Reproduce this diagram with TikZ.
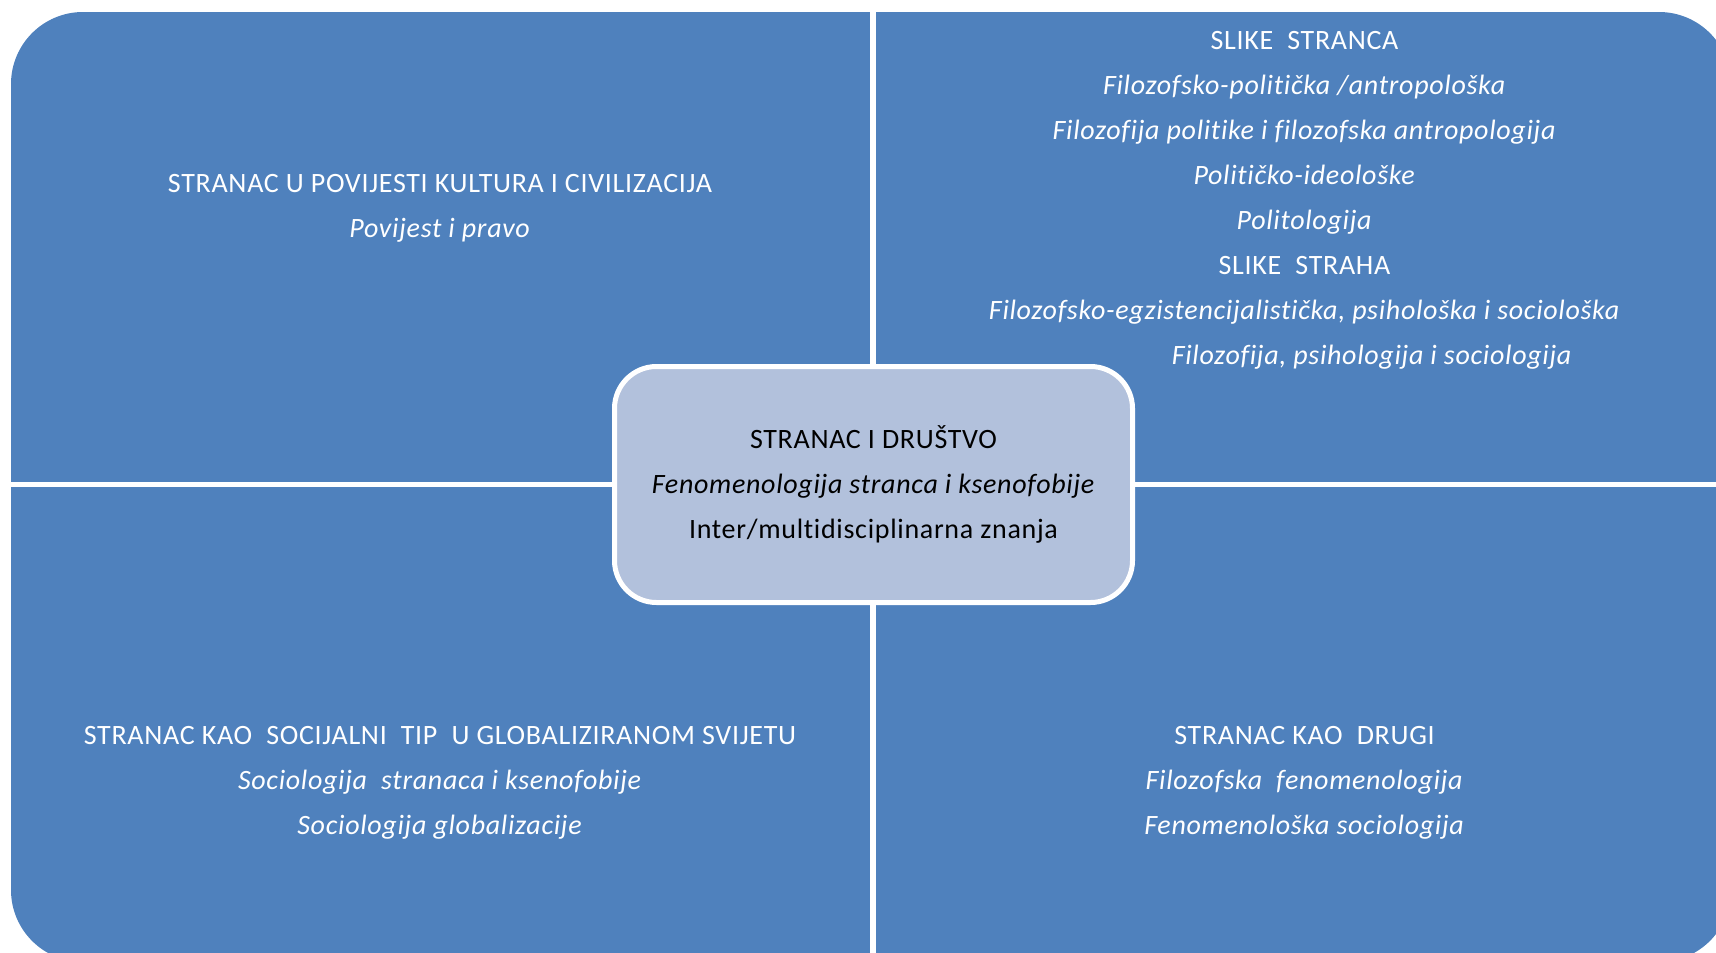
\documentclass[tikz,border=0pt]{standalone}
\usepackage{fontspec}
\setmainfont[Ligatures=NoCommon,LetterSpace=2.5]{Carlito}
\definecolor{qblue}{HTML}{4F81BD}
\definecolor{cfill}{HTML}{B2C1DC}
\tikzset{
  qtext/.style={text=white, align=center, inner sep=0pt, font=\fontsize{28}{45}\selectfont},
  centerbox/.style={draw=white, line width=5pt, fill=cfill, rounded corners=42pt,
    minimum width=518pt, minimum height=236pt, align=center, inner sep=0pt,
    text=black, font=\fontsize{28}{45}\selectfont}
}
\begin{document}
\begin{tikzpicture}[x=1pt,y=-1pt]
\useasboundingbox (0,0) rectangle (1716,953);
\clip (0,0) rectangle (1716,953);
% quadrants
\fill[qblue, rounded corners=72pt] (11,12) rectangle (1731,962);
\fill[white] (870,0) rectangle (876,962);
\fill[white] (0,482) rectangle (1731,487);
% texts
\node[qtext] (tl) at (440,208.5) {STRANAC U POVIJESTI KULTURA I CIVILIZACIJA\\ \textit{Povijest i pravo}};
\node[qtext] (tr) at (1304.5,200.5) {SLIKE~ STRANCA\\
\textit{Filozofsko-politička /antropološka}\\
\textit{Filozofija politike i filozofska antropologija}\\
\textit{Političko-ideološke}\\
\textit{Politologija}\\
SLIKE~ STRAHA\\
\textit{Filozofsko-egzistencijalistička, psihološka i sociološka}\\
\hspace*{135pt}\textit{Filozofija, psihologija i sociologija}};
\node[qtext] (bl) at (440,783.3) {STRANAC KAO~ SOCIJALNI~ TIP~ U GLOBALIZIRANOM SVIJETU\\
\textit{Sociologija~ stranaca i ksenofobije}\\
\textit{Sociologija globalizacije}};
\node[qtext] (br) at (1304.5,783.3) {STRANAC KAO~ DRUGI\\
\textit{Filozofska~ fenomenologija}\\
\textit{Fenomenološka sociologija}};
% center
\node[centerbox] (c) at (873.5,484.5) {STRANAC I DRUŠTVO\\
\textit{Fenomenologija stranca i ksenofobije}\\
Inter/multidisciplinarna znanja};
\end{tikzpicture}
\end{document}
